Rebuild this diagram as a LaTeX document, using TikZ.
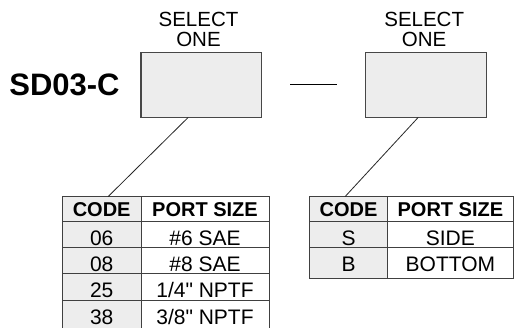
\documentclass[tikz,border=0pt]{standalone}
\usepackage{fontspec}
\setmainfont{Liberation Sans}[Ligatures=TeXOff]
\begin{document}
\begin{tikzpicture}[x=1pt,y=-1pt,
	selbox/.style={draw=black!72,fill=black!7,line width=1.1pt,minimum width=120.7pt,minimum height=65pt,inner sep=0pt},
	seltext/.style={font=\fontsize{20.5}{20.5}\selectfont,anchor=base,inner sep=0pt},
	hdr/.style={font=\fontsize{20}{20}\selectfont\bfseries,anchor=base,inner sep=0pt},
	cell/.style={font=\fontsize{21}{21}\selectfont,anchor=base,inner sep=0pt},
	tline/.style={draw=black!75,line width=0.9pt},
	conn/.style={draw=black!85,line width=0.8pt}]
		
		\useasboundingbox (0,0) rectangle (514,327);
		\clip (0,0) rectangle (514,327);
		
		% part number and selection boxes
		\node[font=\fontsize{31}{31}\selectfont\bfseries,anchor=base,inner sep=0pt] (part) at (64.5,95) {SD03-C};
		\node[selbox] (box1) at (201.3,84.8) {};
		\node[selbox] (box2) at (426.2,84.8) {};
		\node[seltext] (sel1a) at (198.5,26) {SELECT};
		\node[seltext] (sel1b) at (198.5,46.7) {ONE};
		\node[seltext] (sel2a) at (424.2,26) {SELECT};
		\node[seltext] (sel2b) at (424.2,46.7) {ONE};
		\draw[black,line width=1pt] ([xshift=27.8pt]box1.east) -- ([xshift=-28.4pt]box2.west);
		
		% table 1
		\fill[black!7] (62.3,196.7) rectangle (141,330);
		\draw[tline] (62.3,330) -- (62.3,196.7) -- (269,196.7) -- (269,330);
		\draw[tline] (141,196.7) -- (141,330);
		\foreach \y in {221.7,247.5,273.5,300.5}
		\draw[tline] (62.3,\y) -- (269,\y);
		\node[hdr] (t1code) at (101.7,216.7) {CODE};
		\node[hdr] (t1size) at (205,216.7) {PORT SIZE};
		\foreach \c/\p/\y [count=\i] in {06/{\#6 SAE}/245.5,08/{\#8 SAE}/271.5,25/{1/4" NPTF}/297.5,38/{3/8" NPTF}/324}{
			\node[cell] (t1c\i) at (101.7,\y) {\c};
			\node[cell] (t1p\i) at (205,\y) {\p};
		}
		
		% table 2
		\fill[black!7] (309.5,196.7) rectangle (387.7,278.3);
		\draw[tline] (309.5,196.7) rectangle (513,278.3);
		\draw[tline] (387.7,196.7) -- (387.7,278.3);
		\foreach \y in {221.7,247.3}
		\draw[tline] (309.5,\y) -- (513,\y);
		\node[hdr] (t2code) at (348.6,216.7) {CODE};
		\node[hdr] (t2size) at (450.4,216.7) {PORT SIZE};
		\node[cell] (t2c1) at (348.6,245.3) {S};
		\node[cell] (t2p1) at (450.4,245.3) {SIDE};
		\node[cell] (t2c2) at (348.6,271.8) {B};
		\node[cell] (t2p2) at (450.4,271.8) {BOTTOM};
		
		% leader lines
		\coordinate (b1out) at (188.3,117.3);
		\coordinate (t1in) at (108,196.7);
		\coordinate (b2out) at (418.3,117.3);
		\coordinate (t2in) at (345,196.7);
		\draw[conn] (b1out) -- (t1in);
		\draw[conn] (b2out) -- (t2in);
		
\end{tikzpicture}
\end{document}
